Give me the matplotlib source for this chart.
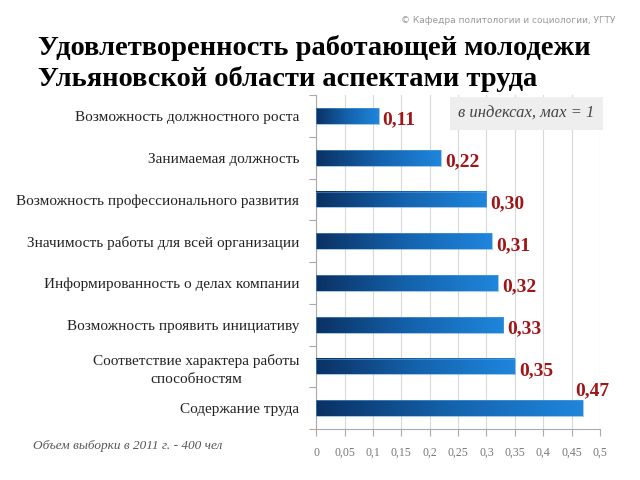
import matplotlib.pyplot as plt
import numpy as np
from matplotlib.colors import LinearSegmentedColormap

categories = [
    "Возможность должностного роста",
    "Занимаемая должность",
    "Возможность профессионального развития",
    "Значимость работы для всей организации",
    "Информированность о делах компании",
    "Возможность проявить инициативу",
    "Соответствие характера работы\nспособностям",
    "Содержание труда",
]
values = [0.11, 0.22, 0.30, 0.31, 0.32, 0.33, 0.35, 0.47]
value_labels = ["0,11", "0,22", "0,30", "0,31", "0,32", "0,33", "0,35", "0,47"]
xticks = [0, 0.05, 0.1, 0.15, 0.2, 0.25, 0.3, 0.35, 0.4, 0.45, 0.5]
xtick_labels = ["0", "0,05", "0,1", "0,15", "0,2", "0,25", "0,3", "0,35", "0,4", "0,45", "0,5"]

serif = "Liberation Serif"
cmap = LinearSegmentedColormap.from_list("bar", ["#0b3163", "#1462ac", "#1f86dc"])

fig = plt.figure(figsize=(6.4, 4.8), dpi=100)
fig.patch.set_facecolor("white")
ax = fig.add_axes([0.494, 0.106, 0.4435, 0.696])

n = len(categories)
ypos = np.arange(n)
bar_h = 0.38
grad = np.linspace(0, 1, 256).reshape(1, -1)

ax.set_xlim(0, 0.5)
ax.set_ylim(n - 0.5, -0.5)

for i, v in enumerate(values):
    ax.imshow(grad, cmap=cmap, aspect="auto",
              extent=[0, v, i + bar_h / 2, i - bar_h / 2], zorder=3)
    ax.add_patch(plt.Rectangle((0, i - bar_h / 2), v, bar_h, fill=False,
                               edgecolor="#5c9fdc", linewidth=0.4, zorder=4))
    if i == n - 1:
        # последняя подпись стоит над столбцом
        ax.text(v - 0.014, i - 0.43, value_labels[i], color="#a01515",
                fontsize=14, fontweight="bold", family=serif,
                ha="left", va="center", zorder=5)
    else:
        ax.text(v + 0.007, i + 0.1, value_labels[i], color="#a01515",
                fontsize=14, fontweight="bold", family=serif,
                ha="left", va="center", zorder=5)

ax.set_xticks(xticks)
ax.set_xticklabels(xtick_labels, family=serif, fontsize=8.5, color="#777777")
ax.set_yticks(ypos)
ax.set_yticklabels(categories, family=serif, fontsize=11, color="#222222",
                   linespacing=1.45, multialignment="center")
ax.set_yticks(np.arange(n + 1) - 0.5, minor=True)
ax.tick_params(axis="y", which="major", length=0, pad=12)
ax.tick_params(axis="y", which="minor", length=5, color="#aaaaaa", width=0.8)
ax.tick_params(axis="x", length=5, color="#aaaaaa", width=0.8, pad=8)

ax.grid(axis="x", color="#d9d9d9", linewidth=0.8, zorder=0)
ax.set_axisbelow(True)
for s in ["top", "right"]:
    ax.spines[s].set_visible(False)
for s in ["left", "bottom"]:
    ax.spines[s].set_color("#aaaaaa")
    ax.spines[s].set_linewidth(0.8)

ax.text(0.98, 0.945, "в индексах, мах = 1", transform=ax.transAxes,
        ha="right", va="center", family=serif, style="italic", fontsize=12,
        color="#444444", zorder=6,
        bbox=dict(boxstyle="square,pad=0.5", facecolor="#eeeeee",
                  edgecolor="none"))

fig.text(0.06, 0.90, "Удовлетворенность работающей молодежи",
         family=serif, fontweight="bold", fontsize=20.5, color="black",
         ha="left", va="center")
fig.text(0.06, 0.836, "Ульяновской области аспектами труда",
         family=serif, fontweight="bold", fontsize=20.5, color="black",
         ha="left", va="center")
fig.text(0.962, 0.958, "© Кафедра политологии и социологии, УГТУ",
         family="DejaVu Sans", fontsize=6.5, color="#999999",
         ha="right", va="center")
fig.text(0.052, 0.07, "Объем выборки в 2011 г. - 400 чел",
         family=serif, style="italic", fontsize=9.5, color="#555555",
         ha="left", va="center")

fig.savefig("out.png", dpi=100)
